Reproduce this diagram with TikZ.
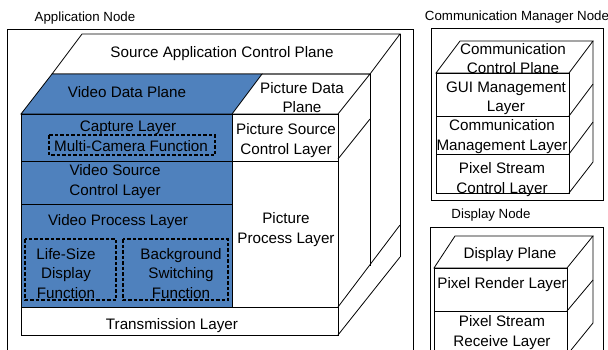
\documentclass[tikz,border=0pt]{standalone}
\usepackage{fontspec}
\setmainfont{Liberation Sans}
\usetikzlibrary{positioning}
\definecolor{vblue}{RGB}{79,129,189}

\begin{document}
\begin{tikzpicture}[x=1pt, y=-1pt, line width=0.8pt,
    txt/.style={align=center, inner sep=0pt, yshift=-1.5pt, font=\fontsize{15.2}{19.5}\selectfont},
    title/.style={inner sep=0pt, font=\fontsize{13.3}{15}\selectfont},
    func/.style={draw, line width=1.1pt, dash pattern=on 3.5pt off 2pt}]
    \useasboundingbox (0,0) rectangle (608,349);

    % Application node
    \node[title] (appT) at (85,18) {Application Node};
    \draw (7,29) rectangle (413,360);

    % back planes and sides
    \draw (82,34) -- (400,34) -- (370,74) -- (52,74) -- cycle;
    \draw (400,34) -- (400,257);
    \draw (370,74) -- (370,266);
    \draw (338,307) -- (400,225);
    \draw (338,335) -- (400,257);

    % data planes
    \draw[fill=vblue] (52,74) -- (262,74) -- (232,114) -- (21,114) -- cycle;
    \draw (262,74) -- (370,74) -- (338,114) -- (232,114);
    \draw (338,159) -- (370,119);

    % front layers
    \draw[fill=vblue] (21,114) rectangle (232,161);
    \draw[fill=vblue] (21,161) rectangle (232,204);
    \draw[fill=vblue] (21,204) rectangle (232,307);
    \draw (232,114) rectangle (338,161);
    \draw (232,161) rectangle (338,307);
    \draw (21,307) rectangle (338,335);

    % functions
    \draw[func] (49,135) rectangle (215,155);
    \draw[func] (25,239) rectangle (116,300);
    \draw[func] (123,239) rectangle (228,300);

    % texts
    \node[txt] (srcCtl) at (222,52) {Source Application Control Plane};
    \node[txt] (vidData) at (127,91) {Video Data Plane};
    \node[txt] (picData) at (302,96) {Picture Data\\Plane};
    \node[txt] (capture) at (128,126) {Capture Layer};
    \node[txt] (multiCam) at (131,145) {Multi-Camera Function};
    \node[txt] (picSrc) at (286,139) {Picture Source\\Control Layer};
    \node[txt] (vidSrc) at (115,180) {Video Source\\Control Layer};
    \node[txt] (vidProc) at (118,220) {Video Process Layer};
    \node[txt] (lifeSize) at (66,272) {Life-Size\\Display\\Function};
    \node[txt] (bgSwitch) at (181,272) {Background\\Switching\\Function};
    \node[txt] (picProc) at (286,228) {Picture\\Process Layer};
    \node[txt] (trans) at (172,324) {Transmission Layer};

    % Communication manager node
    \node[title] (cmT) at (517,17) {Communication Manager Node};
    \draw (431,28) rectangle (603,200);
    \draw (460,41) -- (593,41) -- (569,73) -- (436,73) -- cycle;
    \draw (593,41) -- (593,162) -- (569,193);
    \draw (569,116) -- (593,84);
    \draw (569,154) -- (593,122);
    \draw (436,73) rectangle (569,116);
    \draw (436,116) rectangle (569,154);
    \draw (436,154) rectangle (569,193);
    \node[txt] (comCtl) at (513,57) {Communication\\Control Plane};
    \node[txt] (gui) at (506,97) {GUI Management\\Layer};
    \node[txt] (comMng) at (502,135) {Communication\\Management Layer};
    \node[txt] (pxCtl) at (502,178) {Pixel Stream\\Control Layer};

    % Display node
    \node[title] (dispT) at (491,215) {Display Node};
    \draw (430,227) rectangle (603,360);
    \draw (455,236) -- (593,236) -- (567,268) -- (434,268) -- cycle;
    \draw (593,236) -- (593,323) -- (567,355);
    \draw (567,311) -- (593,280);
    \draw (434,268) rectangle (567,311);
    \draw (434,311) rectangle (567,360);
    \node[txt] (dispPl) at (510,253) {Display Plane};
    \node[txt] (pxRend) at (502,283) {Pixel Render Layer};
    \node[txt] (pxRecv) at (502,331) {Pixel Stream\\Receive Layer};
\end{tikzpicture}
\end{document}
